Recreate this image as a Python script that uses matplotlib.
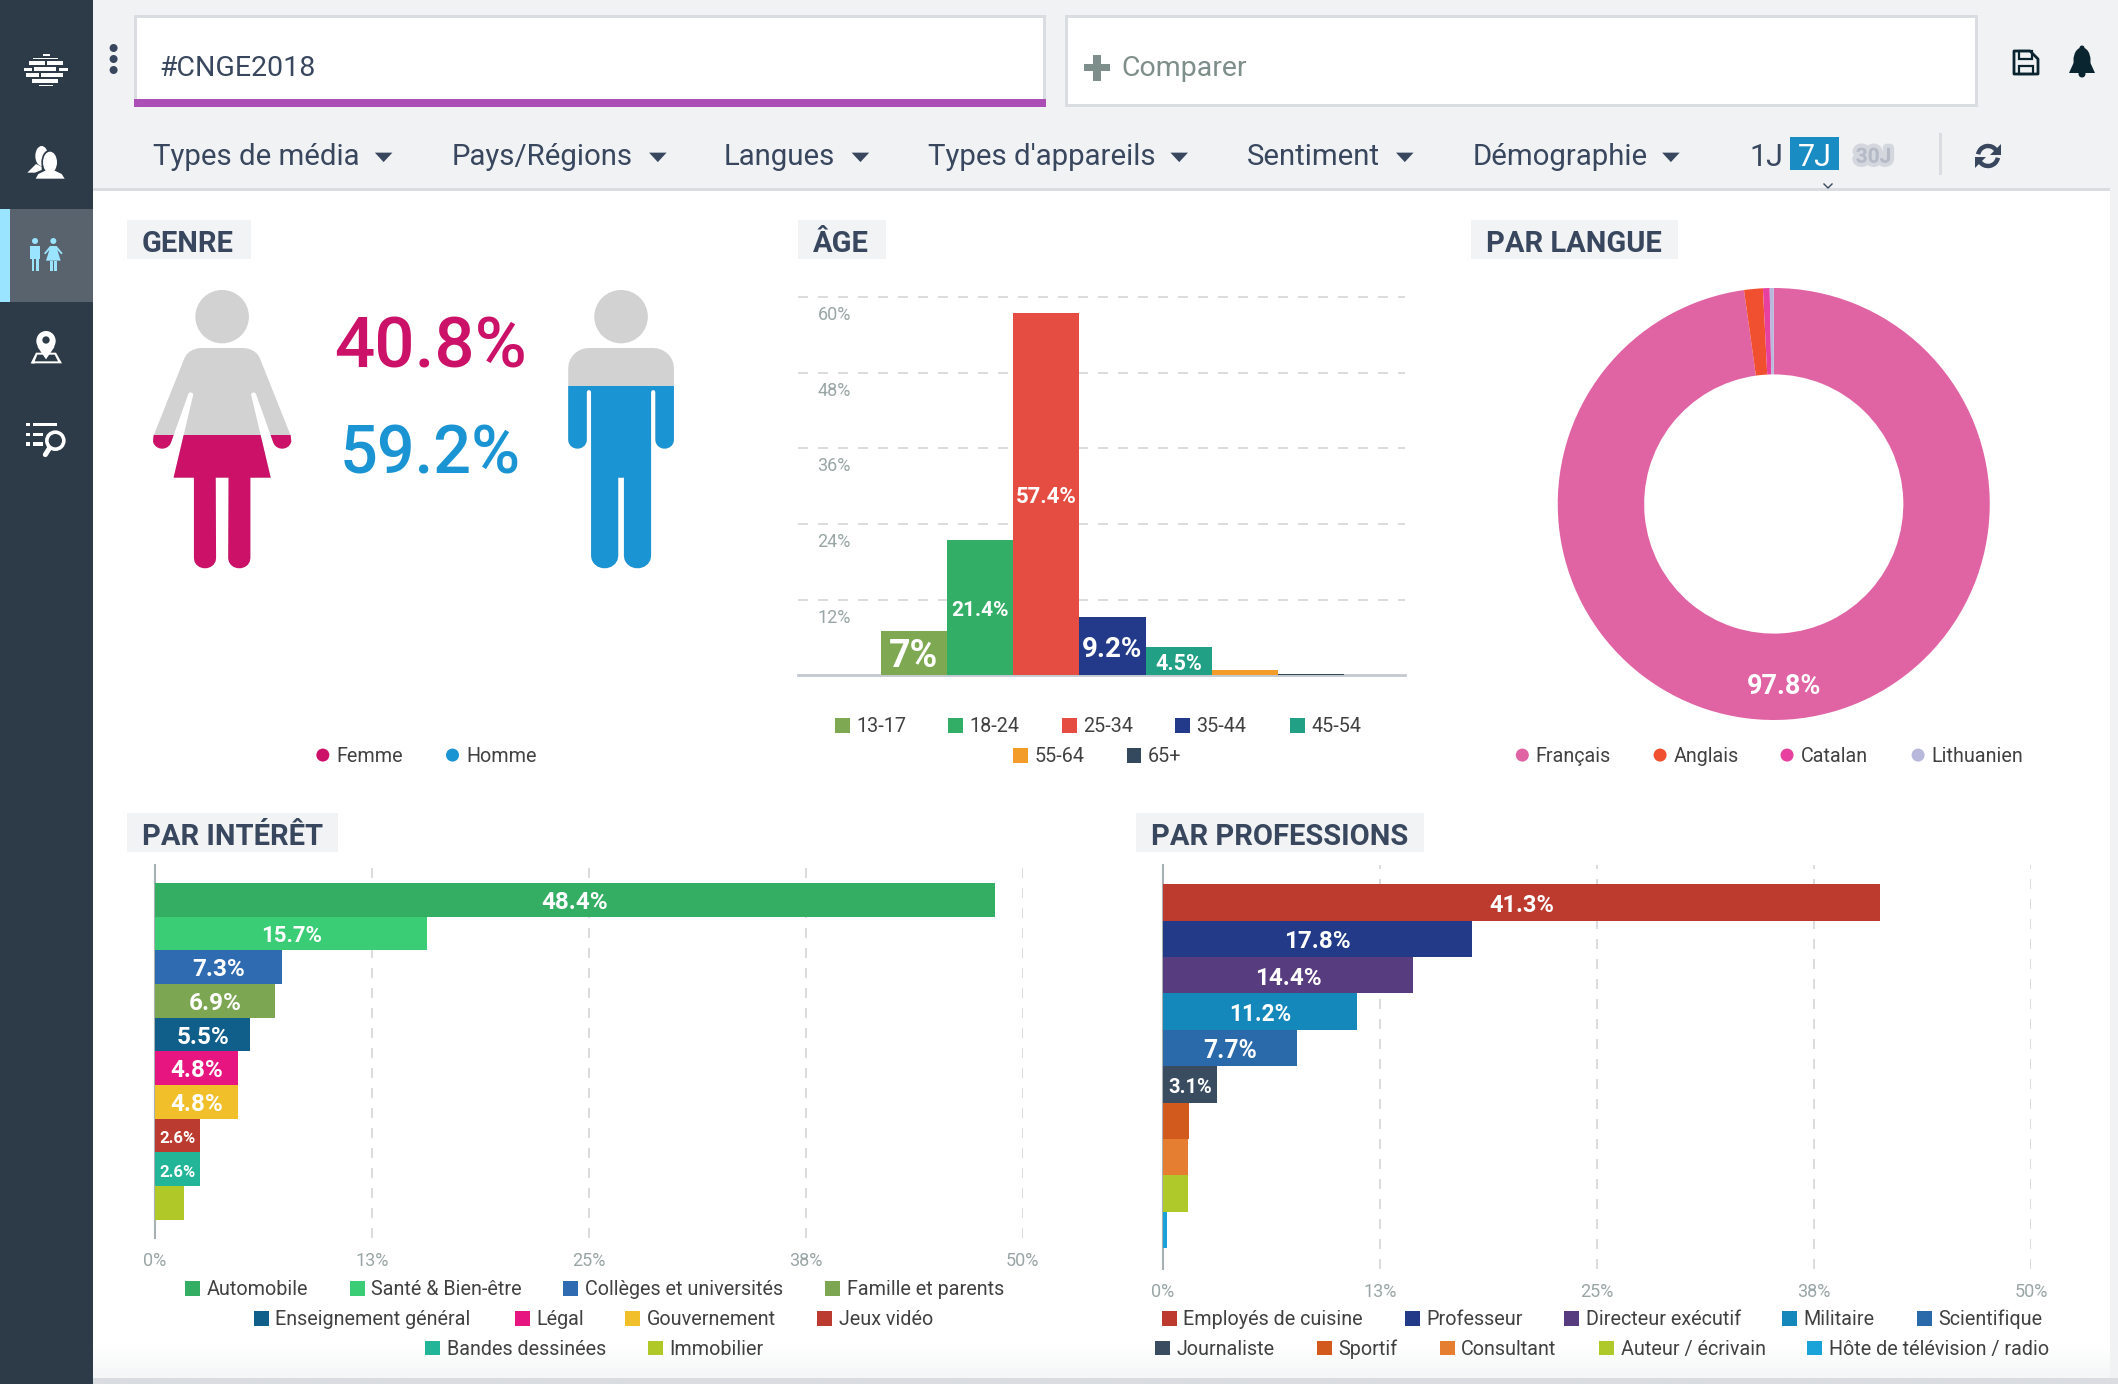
import numpy as np
import matplotlib
matplotlib.use("Agg")
import matplotlib.pyplot as plt
import matplotlib.patheffects as pe
from matplotlib.patches import Rectangle, Ellipse, Polygon, Circle, Arc

# data
gender_names = ["Femme", "Homme"]
gender_share = [40.8, 59.2]
gender_colors = ["#cb1168", "#1a94d2"]

age_names = ["13-17", "18-24", "25-34", "35-44", "45-54", "55-64", "65+"]
age_values = [7, 21.4, 57.4, 9.2, 4.5, 0.9, 0.3]
age_labels = ["7%", "21.4%", "57.4%", "9.2%", "4.5%", "", ""]
age_colors = ["#7fa853", "#33ae66", "#e54d42", "#233a8b", "#22a085", "#f39c2a", "#34495e"]
age_ticks = [12, 24, 36, 48, 60]

lang_names = ["Français", "Anglais", "Catalan", "Lithuanien"]
lang_values = [97.8, 1.4, 0.5, 0.3]
lang_colors = ["#e063a4", "#f05030", "#e8409f", "#b8b8dc"]

interest_names = ["Automobile", "Santé & Bien-être", "Collèges et universités", "Famille et parents",
                  "Enseignement général", "Légal", "Gouvernement", "Jeux vidéo",
                  "Bandes dessinées", "Immobilier"]
interest_values = [48.4, 15.7, 7.3, 6.9, 5.5, 4.8, 4.8, 2.6, 2.6, 1.7]
interest_labels = ["48.4%", "15.7%", "7.3%", "6.9%", "5.5%", "4.8%", "4.8%", "2.6%", "2.6%", ""]
interest_colors = ["#34ae63", "#3bcc76", "#2e6bb0", "#7da653", "#0f5f8a",
                   "#e6157f", "#f0bf2a", "#bb3b30", "#23b598", "#b0c928"]

prof_names = ["Employés de cuisine", "Professeur", "Directeur exécutif", "Militaire", "Scientifique",
              "Journaliste", "Sportif", "Consultant", "Auteur / écrivain", "Hôte de télévision / radio"]
prof_values = [41.3, 17.8, 14.4, 11.2, 7.7, 3.1, 1.5, 1.45, 1.45, 0.25]
prof_labels = ["41.3%", "17.8%", "14.4%", "11.2%", "7.7%", "3.1%", "", "", "", ""]
prof_colors = ["#bd3a2f", "#223a88", "#583c80", "#1488bb", "#2b6aaa",
               "#3a4d60", "#d15a1c", "#e67e32", "#afc82a", "#1aa3d8"]

pct_ticks = [0, 12.5, 25, 37.5, 50]
pct_tick_labels = ["0%", "13%", "25%", "38%", "50%"]

menu_items = ["Types de média", "Pays/Régions", "Langues", "Types d'appareils", "Sentiment", "Démographie"]

W, H = 2118, 1384
D = W / 1568  # positions below were measured on a 1568 wide copy
plt.rcParams["font.family"] = ["Roboto", "DejaVu Sans"]
INK = "#38475e"
GREY = "#9aa6a6"

fig = plt.figure(figsize=(W / 100, H / 100), dpi=100, facecolor="#f1f2f4")
bg = fig.add_axes([0, 0, 1, 1], zorder=0)
bg.set_xlim(0, W)
bg.set_ylim(H, 0)
bg.axis("off")


def box(x0, y0, x1, y1, color, **kw):
    bg.add_patch(Rectangle((x0, y0), x1 - x0, y1 - y0, fc=color, ec="none", **kw))


def txt(xd, yd, s, size, color=INK, ha="left", **kw):
    # roboto sits a little high when centred, so push it down with its size
    return bg.text(xd * D, (yd + size * 0.09) * D, s, fontsize=size, color=color, ha=ha, va="center", **kw)


def chart_axes(x0, y0, x1, y1):
    ax = fig.add_axes([x0 / W, 1 - y1 / H, (x1 - x0) / W, (y1 - y0) / H], zorder=2)
    ax.patch.set_visible(False)
    return ax


# page frame
box(93, 191, 2110, 1378, "white")
fade = np.linspace(0, 1, 30).reshape(-1, 1)
bg.imshow(fade, extent=(93, 2110, 1378, 1345), cmap=matplotlib.colors.LinearSegmentedColormap.from_list("f", ["white", "#f5f6f7"]),
          aspect="auto", zorder=1)
bg.set_xlim(0, W)
bg.set_ylim(H, 0)
box(93, 188, 2110, 191, "#d9dce0", zorder=2)
box(93, 1378, 2118, 1384, "#d9dce0", zorder=2)

# search boxes
box(134, 15, 1046, 107, "#d9dce0")
box(137, 18, 1043, 104, "white")
box(134, 99, 1046, 107, "#ab4fb6")
box(1065, 15, 1978, 107, "#d9dce0")
box(1068, 18, 1975, 104, "white")
txt(118, 49, "#CNGE2018", 20.5)
txt(830, 49, "Comparer", 20.5, color="#7e8e8b")
box(1084, 64, 1110, 71, "#7e8e8b")
box(1093, 55, 1101, 81, "#7e8e8b")
for y in [48, 59, 70]:
    bg.add_patch(Circle((113.6, y), 4, fc=INK, ec="none"))

# filter menu
menu_x = [113, 334, 536, 687, 923, 1090]
caret_x = [284, 487, 637, 873, 1040, 1237]
for name, mx, cx in zip(menu_items, menu_x, caret_x):
    txt(mx, 114, name, 21.2)
    bg.add_patch(Polygon([((cx - 6.5) * D, 113 * D), ((cx + 6.5) * D, 113 * D), (cx * D, 120 * D)], fc=INK, ec="none"))
txt(1295, 114.5, "1J", 22)
box(1790, 137, 1839, 170, "#1a8cc4")
txt(1343.5, 114.5, "7J", 22, color="white", ha="center")
txt(1387, 115, "30J", 15, color="#b4bac6", ha="center", weight="bold",
    path_effects=[pe.withStroke(linewidth=6, foreground="#c9cdd6", alpha=0.7)])
box(1939, 133, 1942, 175, "#d9dce0")
bg.plot([1824, 1828, 1832], [184, 188, 184], color=INK, lw=1)

# refresh icon
bg.add_patch(Arc((1988, 156), 20, 20, theta1=190, theta2=330, color=INK, lw=3.2))
bg.add_patch(Arc((1988, 156), 20, 20, theta1=10, theta2=150, color=INK, lw=3.2))
bg.add_patch(Polygon([(2001, 144), (2001, 155), (1990, 155)], fc=INK, ec="none"))
bg.add_patch(Polygon([(1975, 168), (1975, 157), (1986, 157)], fc=INK, ec="none"))

# save and bell icons
DARK = "#0b2530"
bg.add_patch(Polygon([(2014, 51), (2030, 51), (2038, 59), (2038, 74), (2014, 74)], fc="none", ec=DARK, lw=2, joinstyle="round"))
bg.add_patch(Rectangle((2019, 51), 13, 8, fc="none", ec=DARK, lw=1.6))
bg.add_patch(Rectangle((2019, 66), 14, 8, fc="none", ec=DARK, lw=1.6))
bg.add_patch(Ellipse((2082, 60), 17, 25, fc=DARK, ec="none"))
bg.add_patch(Polygon([(2069, 73), (2074, 62), (2090, 62), (2095, 73)], fc=DARK, ec="none"))
bg.add_patch(Circle((2082, 48), 2.5, fc=DARK, ec="none"))
bg.add_patch(Circle((2082, 74), 3.5, fc=DARK, ec="none"))

# sidebar
box(0, 0, 93, H, "#2d3a47", zorder=3)
box(0, 209, 93, 302, "#58636e", zorder=3)
box(0, 209, 10, 302, "#9be4ff", zorder=3)
WHITE = "white"
CYAN = "#9be4ff"
SIDE = "#2d3a47"
sq = lambda zx, zy: (zx / 3, 30 + zy / 3)


def zbar(zx0, zx1, zy, th, color=WHITE):
    x0, y0 = sq(zx0, zy - th / 2)
    x1, y1 = sq(zx1, zy + th / 2)
    box(x0, y0, x1, y1, color, zorder=4)


def zpoly(pts, color=WHITE, **kw):
    bg.add_patch(Polygon([sq(*p) for p in pts], fc=color, ec="none", zorder=4, **kw))


def zell(zx, zy, rx, ry, color=WHITE):
    bg.add_patch(Ellipse(sq(zx, zy), rx * 2 / 3, ry * 2 / 3, fc=color, ec="none", zorder=4))


for x0, x1, y, th in [(128, 150, 75, 5), (100, 175, 86, 5), (88, 135, 99, 10), (142, 190, 99, 10),
                      (73, 97, 117, 9), (102, 168, 117, 14), (178, 204, 117, 9), (78, 118, 135, 10),
                      (124, 189, 135, 14), (95, 175, 153, 10), (117, 160, 167, 5)]:
    zbar(x0, x1, y, th)

# people icon
zell(125, 378, 19, 30)
zpoly([(82, 428), (108, 402), (125, 410), (125, 420), (105, 428)])
zell(150, 397, 26, 38, SIDE)
zpoly([(100, 450), (110, 428), (140, 414), (160, 414), (190, 428), (200, 450)], SIDE)
zell(150, 397, 21, 32)
zpoly([(107, 446), (115, 432), (140, 420), (160, 420), (185, 432), (194, 446)])

# gender icon
zell(105, 633, 9, 9, CYAN)
zbar(90, 120, 667, 37, CYAN)
zbar(96, 103, 703, 38, CYAN)
zbar(109, 116, 703, 38, CYAN)
zell(160, 633, 9, 9, CYAN)
zpoly([(150, 648), (170, 648), (188, 670), (184, 673), (172, 660), (182, 692), (138, 692), (148, 660), (136, 673), (132, 670)], CYAN)
zbar(151, 158, 707, 30, CYAN)
zbar(163, 170, 707, 30, CYAN)

# map pin icon
zpoly([(106, 1002), (92, 1000), (108, 968), (168, 968), (186, 1000), (100, 1000)])
zpoly([(104, 994), (112, 974), (164, 974), (174, 994)], SIDE)
zell(138, 933, 29, 30)
zpoly([(112, 950), (164, 950), (138, 988)])
zell(138, 930, 11, 11, SIDE)

# list search icon
for y, x1 in [(1184, 170), (1213, 130), (1242, 128)]:
    zbar(79, 90, y, 10)
    zbar(100, x1, y, 10)
bg.add_patch(Ellipse(sq(166, 1232), 17, 17, fc=SIDE, ec=WHITE, lw=2.6, zorder=4))
bg.plot([sq(148, 1255)[0], sq(136, 1274)[0]], [sq(148, 1255)[1], sq(136, 1274)[1]], color=WHITE, lw=3.6, zorder=4, solid_capstyle="round")

# section headings
for x0, x1, y0, y1, name in [(94, 186, 163, 192, "GENRE"), (591, 656, 163, 192, "ÂGE"),
                             (1089, 1242, 163, 192, "PAR LANGUE"), (94, 250, 602, 631, "PAR INTÉRÊT"),
                             (841, 1054, 602, 631, "PAR PROFESSIONS")]:
    box(x0 * D, y0 * D, x1 * D, y1 * D, "#f1f3f5")
    txt(x0 + 11, (y0 + y1) / 2 + 1.5, name, 21, weight="bold")


# gender figures, drawn in the coordinates of a zoomed crop
def zf(p):
    return (130 + p[0] / 2.8, 270 + p[1] / 3)


def arc_pts(cx, cy, rx, ry, a0, a1, n=10):
    a = np.radians(np.linspace(a0, a1, n))
    return [(cx + rx * np.cos(t), cy + ry * np.sin(t)) for t in a]


def mirror(half, cx):
    return half + [(2 * cx - x, y) for x, y in reversed(half)]


woman_half = (arc_pts(200, 278, 50, 44, 270, 200, 6)
              + [(66, 497)] + arc_pts(90, 510, 26, 26, 170, 20, 10)
              + arc_pts(170, 374, 7, 7, 200, 360, 5)
              + [(122, 623), (179, 623)]
              + arc_pts(210, 865, 31, 30, 180, 0, 10) + [(240, 623), (258, 623)])
man_half = (arc_pts(1285, 294, 58, 60, 270, 180, 8)
            + arc_pts(1253, 510, 26, 26, 180, 0, 10)
            + arc_pts(1285, 366, 6, 6, 180, 360, 5)
            + arc_pts(1329, 858, 38, 37, 180, 0, 10) + [(1367, 623), (1375, 623)])
figures = [(mirror(woman_half, 258), 258), (mirror(man_half, 1375), 1375)]
for (outline, cx), share, color in zip(figures, gender_share, gender_colors):
    pts = [zf(p) for p in outline]
    bg.add_patch(Polygon(pts, fc="#d2d2d2", ec="none"))
    bg.add_patch(Ellipse(zf((cx, 140)), 150 / 2.8, 160 / 3, fc="#d2d2d2", ec="none"))
    level = 568 - (24.4 + 2.66 * share)
    clip = Rectangle((0, level), W, H - level, transform=bg.transData)
    fill = Polygon(pts, fc=color, ec="none")
    bg.add_patch(fill)
    fill.set_clip_path(clip)

txt(318.5, 253, "%.1f%%" % gender_share[0], 51, color=gender_colors[0], ha="center", weight="medium")
txt(318.5, 333, "%.1f%%" % gender_share[1], 48, color=gender_colors[1], ha="center", weight="medium")

LEG = 14.2


def dot_legend(names, colors, xs, yd):
    for name, c, x in zip(names, colors, xs):
        bg.add_patch(Circle(((x - 10) * D, yd * D), 6.5, fc=c, ec="none"))
        txt(x, yd - 0.5, name, LEG, color="#414141")


def square_legend(names, colors, xs, yd):
    for name, c, x in zip(names, colors, xs):
        box(x * D, (yd - 5.5) * D, (x + 11) * D, (yd + 5.5) * D, c)
        txt(x + 15.8, yd - 0.5, name, LEG, color="#414141")


def bar_label(ax, x, y, s, size):
    ax.annotate(s, xy=(x, y), xytext=(0, -2), textcoords="offset points", color="white", fontsize=size,
                ha="center", va="center", weight="bold", zorder=4)


dot_legend(gender_names, gender_colors, [249, 345], 559)

# age chart
ax = chart_axes(798, 297, 1405, 675.4)
ax.bar(range(len(age_values)), age_values, width=1, color=age_colors, zorder=3)
ax.set_xlim(-1.75, 7.42)
ax.set_ylim(0, 60)
ax.set_yticks(age_ticks)
ax.set_xticks([])
ax.set_yticklabels([])
ax.tick_params(length=0)
ax.grid(axis="y", color="#d4d6d8", lw=1.2, ls=(0, (6, 6)), clip_on=False)
ax.set_axisbelow(True)
for s in ["top", "left", "right"]:
    ax.spines[s].set_visible(False)
ax.spines["bottom"].set_color("#c2c9cf")
ax.spines["bottom"].set_linewidth(2)
for v in age_ticks:
    ax.annotate("%d%%" % v, xy=(0, v), xycoords=("axes fraction", "data"), xytext=(26, -13),
                textcoords="offset points", color=GREY, fontsize=13, ha="center", va="center")
age_label_size = [27, 15, 16, 20, 15.5, 10, 10]
for i, (v, lab) in enumerate(zip(age_values, age_labels)):
    if lab:
        bar_label(ax, i, v / 2, lab, age_label_size[i])
square_legend(age_names[:5], age_colors[:5], [618, 702, 786, 870, 955], 537)
square_legend(age_names[5:], age_colors[5:], [750, 834], 559)

# language donut
ax = chart_axes(1557.5, 288, 1990, 720)
ax.pie(lang_values, colors=lang_colors, startangle=90, counterclock=False, radius=1,
       wedgeprops={"width": 0.4, "linewidth": 0})
ax.set_xlim(-1, 1)
ax.set_ylim(-1, 1)
bar_label(ax, 0.05, -0.83, "%.1f%%" % lang_values[0], 19.5)
dot_legend(lang_names, lang_colors, [1137, 1239, 1333, 1430], 559)


def hbars(box_px, values, labels, colors, ylim, sizes):
    ax = chart_axes(*box_px)
    ax.barh(range(len(values)), values, height=1, color=colors, zorder=3)
    ax.set_xlim(0, 50)
    ax.set_ylim(*ylim)
    ax.set_xticks(pct_ticks)
    ax.set_xticklabels(pct_tick_labels, color=GREY, fontsize=13)
    ax.set_yticks([])
    ax.tick_params(length=0, pad=10)
    ax.grid(axis="x", color="#d4d6d8", lw=1.2, ls=(0, (6, 6)))
    ax.set_axisbelow(True)
    for s in ["top", "bottom", "right"]:
        ax.spines[s].set_visible(False)
    ax.spines["left"].set_color("#a9b0b4")
    ax.spines["left"].set_linewidth(1.5)
    for i, (v, lab) in enumerate(zip(values, labels)):
        if lab:
            bar_label(ax, v / 2, i, lab, sizes[i])
    return ax


interest_size = [17.5, 16, 17.5, 17.5, 17.5, 17.5, 17.5, 12, 12, 10]
hbars((155, 865, 1022.5, 1238), interest_values, interest_labels, interest_colors, (10.04, -1.03), interest_size)
square_legend(interest_names[:4], interest_colors[:4], [137, 259, 417, 611], 954)
square_legend(interest_names[4:8], interest_colors[4:8], [188, 381, 463, 605], 976)
square_legend(interest_names[8:], interest_colors[8:], [315, 480], 998)

prof_size = [17, 17.5, 17.5, 16.3, 17.8, 14.5, 10, 10, 10, 10]
hbars((1163, 865, 2031, 1269), prof_values, prof_labels, prof_colors, (10.08, -1.034), prof_size)
square_legend(prof_names[:5], prof_colors[:5], [860, 1040, 1158, 1319, 1419], 976)
square_legend(prof_names[5:], prof_colors[5:], [855, 975, 1066, 1184, 1338], 998)

fig.savefig("out.png", dpi=100, facecolor=fig.get_facecolor())
